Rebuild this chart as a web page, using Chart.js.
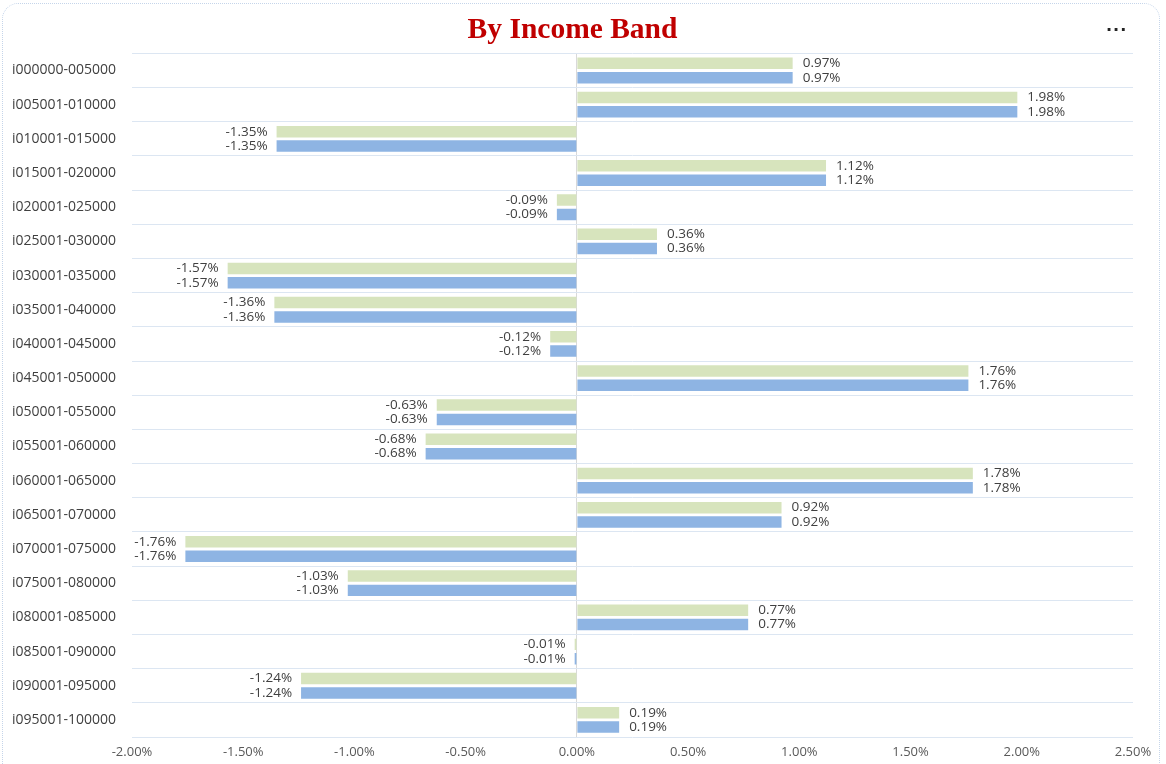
<!DOCTYPE html>
<html>
<head>
<meta charset="utf-8">
<script src="https://cdn.jsdelivr.net/npm/chart.js@4"></script>
<style>
html, body { margin: 0; padding: 0; background: #fff; }
#wrap { position: relative; width: 1166px; height: 764px; overflow: hidden; }
#frame { position: absolute; left: 2px; top: 3px; width: 1156px; height: 790px; border: 1px dotted #c5d5ea; border-radius: 16px; }
#more { position: absolute; left: 1106px; top: 20px; font: bold 16px "DejaVu Sans"; color: #222; letter-spacing: 1px; }
#chart { position: absolute; left: 0; top: 0; }
</style>
</head>
<body>
<div id="wrap">
  <div id="frame"></div>
  <canvas id="chart" width="1166" height="764"></canvas>
  <div id="more">&middot;&middot;&middot;</div>
</div>
<script>
const bands = [
  'i000000-005000', 'i005001-010000', 'i010001-015000', 'i015001-020000', 'i020001-025000',
  'i025001-030000', 'i030001-035000', 'i035001-040000', 'i040001-045000', 'i045001-050000',
  'i050001-055000', 'i055001-060000', 'i060001-065000', 'i065001-070000', 'i070001-075000',
  'i075001-080000', 'i080001-085000', 'i085001-090000', 'i090001-095000', 'i095001-100000'
];
const greenValues = [0.97, 1.98, -1.35, 1.12, -0.09, 0.36, -1.57, -1.36, -0.12, 1.76,
  -0.63, -0.68, 1.78, 0.92, -1.76, -1.03, 0.77, -0.01, -1.24, 0.19];
const blueValues = [0.97, 1.98, -1.35, 1.12, -0.09, 0.36, -1.57, -1.36, -0.12, 1.76,
  -0.63, -0.68, 1.78, 0.92, -1.76, -1.03, 0.77, -0.01, -1.24, 0.19];
const xMin = -2, xMax = 2.5, xStep = 0.5;

const txtFont = '"Open Sans", "Noto Sans", sans-serif';

// value labels next to each bar end
const valueLabels = {
  id: 'valueLabels',
  afterDatasetsDraw(chart) {
    const ctx = chart.ctx;
    ctx.save();
    ctx.font = '13.5px ' + txtFont;
    ctx.fillStyle = '#404040';
    ctx.textBaseline = 'middle';
    chart.data.datasets.forEach((ds, i) => {
      chart.getDatasetMeta(i).data.forEach((bar, j) => {
        const v = ds.data[j];
        const neg = v < 0;
        ctx.textAlign = neg ? 'right' : 'left';
        ctx.fillText(v.toFixed(2) + '%', bar.x + (neg ? -9 : 10), bar.y);
      });
    });
    ctx.restore();
  }
};

new Chart(document.getElementById('chart'), {
  type: 'bar',
  data: {
    labels: bands,
    datasets: [
      { label: 'Series 1', data: greenValues, backgroundColor: '#d7e4bd',
        categoryPercentage: 0.84, barPercentage: 0.8 },
      { label: 'Series 2', data: blueValues, backgroundColor: '#8eb4e3',
        categoryPercentage: 0.84, barPercentage: 0.8 }
    ]
  },
  options: {
    indexAxis: 'y',
    responsive: false,
    animation: false,
    layout: { padding: { left: 12, right: 33, top: 13, bottom: 0 } },
    plugins: {
      legend: { display: false },
      tooltip: { enabled: false },
      title: {
        display: true,
        text: 'By Income Band',
        color: '#c00000',
        font: { family: '"Liberation Serif", serif', size: 29.5, weight: 'bold', lineHeight: 1.2 },
        padding: { top: 0, bottom: 5 }
      }
    },
    scales: {
      x: {
        min: xMin,
        max: xMax,
        border: { display: false },
        grid: {
          color: c => c.tick && c.tick.value === 0 ? '#d9d9d9' : 'rgba(0,0,0,0)',
          drawTicks: false
        },
        ticks: {
          stepSize: xStep,
          color: '#595959',
          font: { family: txtFont, size: 13 },
          padding: 7,
          callback: v => v.toFixed(2) + '%'
        },
        afterFit: s => { s.height = 27; }
      },
      y: {
        border: { display: false },
        grid: { color: '#dce6f2', drawTicks: false, offset: true },
        ticks: {
          crossAlign: 'far',
          color: '#404040',
          font: { family: txtFont, size: 14 },
          padding: 0
        },
        afterFit: s => { s.width = 120; }
      }
    }
  },
  plugins: [valueLabels]
});
</script>
</body>
</html>
